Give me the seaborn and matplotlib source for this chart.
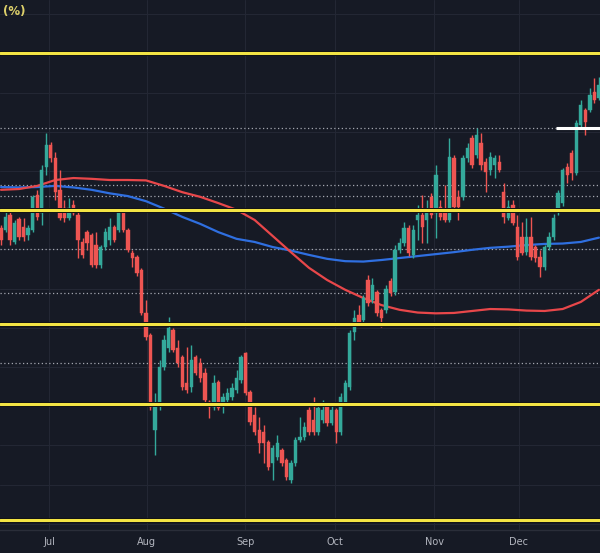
import numpy as np
import pandas as pd
import matplotlib
matplotlib.use("Agg")
import matplotlib.pyplot as plt
import seaborn as sns

# ---- data (yield, %) ----
opens = [4.555, 4.550, 4.588, 4.519, 4.578, 4.557, 4.537, 4.550, 4.639, 4.593,
         4.710, 4.766, 4.733, 4.652, 4.606, 4.580, 4.613, 4.588, 4.519, 4.544,
         4.537, 4.511, 4.460, 4.506, 4.524, 4.557, 4.550, 4.593, 4.550, 4.491,
         4.481, 4.448, 4.338, 4.282, 4.040, 4.108, 4.200, 4.249, 4.295, 4.249,
         4.226, 4.159, 4.149, 4.226, 4.210, 4.185, 4.111, 4.098, 4.162, 4.108,
         4.116, 4.124, 4.142, 4.167, 4.236, 4.136, 4.078, 4.040, 4.034, 4.009,
         3.955, 3.971, 3.989, 3.963, 3.912, 3.955, 4.014, 4.022, 4.091, 4.065,
         4.034, 4.065, 4.103, 4.057, 4.091, 4.034, 4.108, 4.149, 4.289, 4.333,
         4.320, 4.422, 4.371, 4.391, 4.346, 4.346, 4.419, 4.391, 4.499, 4.516,
         4.555, 4.486, 4.575, 4.588, 4.575, 4.634, 4.593, 4.608, 4.593, 4.575,
         4.733, 4.634, 4.634, 4.733, 4.784, 4.741, 4.771, 4.723, 4.703, 4.715,
         4.723, 4.646, 4.580, 4.613, 4.557, 4.532, 4.493, 4.532, 4.506, 4.481,
         4.455, 4.506, 4.532, 4.601, 4.618, 4.710, 4.746, 4.695, 4.817, 4.856,
         4.856, 4.901, 4.886]
closes = [4.524, 4.583, 4.524, 4.567, 4.532, 4.532, 4.555, 4.634, 4.583, 4.703,
          4.766, 4.733, 4.646, 4.580, 4.580, 4.606, 4.593, 4.524, 4.486, 4.516,
          4.460, 4.460, 4.506, 4.544, 4.557, 4.524, 4.593, 4.550, 4.499, 4.478,
          4.440, 4.338, 4.277, 4.098, 4.103, 4.200, 4.269, 4.300, 4.244, 4.210,
          4.149, 4.142, 4.218, 4.185, 4.172, 4.116, 4.098, 4.159, 4.096, 4.124,
          4.134, 4.147, 4.172, 4.226, 4.134, 4.060, 4.034, 4.006, 4.006, 3.945,
          3.994, 4.006, 3.955, 3.920, 3.955, 4.014, 4.022, 4.047, 4.034, 4.034,
          4.096, 4.091, 4.057, 4.091, 4.034, 4.124, 4.159, 4.287, 4.325, 4.315,
          4.376, 4.363, 4.409, 4.338, 4.325, 4.399, 4.389, 4.499, 4.516, 4.555,
          4.491, 4.550, 4.588, 4.557, 4.601, 4.588, 4.690, 4.583, 4.575, 4.736,
          4.608, 4.608, 4.733, 4.759, 4.715, 4.792, 4.715, 4.697, 4.736, 4.733,
          4.703, 4.583, 4.608, 4.567, 4.481, 4.491, 4.532, 4.481, 4.478, 4.455,
          4.506, 4.532, 4.580, 4.644, 4.703, 4.690, 4.695, 4.822, 4.868, 4.825,
          4.894, 4.881, 4.919]
highs = [4.562, 4.595, 4.595, 4.575, 4.583, 4.580, 4.562, 4.639, 4.652, 4.715,
         4.797, 4.774, 4.748, 4.703, 4.626, 4.631, 4.626, 4.595, 4.529, 4.550,
         4.542, 4.544, 4.511, 4.555, 4.580, 4.562, 4.601, 4.601, 4.555, 4.499,
         4.486, 4.453, 4.371, 4.287, 4.134, 4.218, 4.282, 4.328, 4.300, 4.269,
         4.231, 4.251, 4.256, 4.231, 4.223, 4.198, 4.116, 4.180, 4.167, 4.134,
         4.147, 4.159, 4.193, 4.231, 4.238, 4.142, 4.098, 4.073, 4.052, 4.014,
         4.001, 4.027, 3.994, 3.968, 3.963, 4.022, 4.073, 4.060, 4.098, 4.124,
         4.103, 4.116, 4.108, 4.103, 4.096, 4.134, 4.167, 4.295, 4.346, 4.358,
         4.384, 4.435, 4.427, 4.397, 4.351, 4.409, 4.427, 4.511, 4.529, 4.570,
         4.562, 4.562, 4.613, 4.639, 4.626, 4.644, 4.715, 4.626, 4.664, 4.784,
         4.741, 4.652, 4.741, 4.771, 4.792, 4.810, 4.797, 4.733, 4.748, 4.741,
         4.741, 4.669, 4.626, 4.626, 4.588, 4.570, 4.580, 4.583, 4.511, 4.499,
         4.511, 4.544, 4.590, 4.652, 4.708, 4.720, 4.754, 4.830, 4.881, 4.861,
         4.912, 4.937, 4.940]
lows = [4.511, 4.544, 4.511, 4.514, 4.524, 4.521, 4.524, 4.544, 4.575, 4.562,
        4.690, 4.723, 4.626, 4.575, 4.570, 4.575, 4.588, 4.478, 4.478, 4.499,
        4.455, 4.453, 4.453, 4.499, 4.511, 4.519, 4.544, 4.544, 4.493, 4.455,
        4.432, 4.333, 4.269, 4.091, 3.976, 4.091, 4.193, 4.238, 4.238, 4.200,
        4.142, 4.134, 4.136, 4.180, 4.162, 4.108, 4.070, 4.091, 4.091, 4.083,
        4.111, 4.116, 4.134, 4.159, 4.129, 4.052, 4.027, 3.981, 3.955, 3.938,
        3.912, 3.963, 3.948, 3.912, 3.904, 3.948, 4.009, 4.014, 4.027, 4.027,
        4.027, 4.057, 4.050, 4.052, 4.006, 4.027, 4.103, 4.142, 4.269, 4.307,
        4.315, 4.356, 4.363, 4.330, 4.302, 4.338, 4.381, 4.384, 4.491, 4.509,
        4.483, 4.478, 4.524, 4.516, 4.516, 4.580, 4.529, 4.575, 4.570, 4.570,
        4.601, 4.575, 4.626, 4.723, 4.708, 4.733, 4.703, 4.646, 4.690, 4.682,
        4.697, 4.567, 4.575, 4.562, 4.473, 4.486, 4.486, 4.473, 4.468, 4.429,
        4.448, 4.499, 4.524, 4.588, 4.611, 4.669, 4.677, 4.690, 4.812, 4.792,
        4.850, 4.873, 4.881]

# moving averages sampled every 4 sessions
ma_idx = list(range(0, 133, 4))
ma_blue = [4.659, 4.658, 4.659, 4.662, 4.658, 4.652, 4.643, 4.636, 4.623, 4.604,
           4.583, 4.565, 4.544, 4.527, 4.519, 4.506, 4.497, 4.486, 4.476, 4.470,
           4.469, 4.473, 4.478, 4.483, 4.488, 4.493, 4.499, 4.504, 4.507, 4.511,
           4.514, 4.515, 4.519, 4.530]
ma_red = [4.652, 4.654, 4.662, 4.677, 4.682, 4.680, 4.677, 4.677, 4.676, 4.662,
          4.646, 4.634, 4.618, 4.601, 4.575, 4.534, 4.493, 4.453, 4.422, 4.397,
          4.376, 4.358, 4.346, 4.339, 4.337, 4.338, 4.343, 4.348, 4.347, 4.344,
          4.343, 4.348, 4.366, 4.397]

yellow_levels = [5.00, 4.60, 4.31, 4.105, 3.81]
dotted_levels = [4.81, 4.665, 4.636, 4.50, 4.39, 4.21]
white_level = 4.81
white_start = 122.5

month_labels = ["Jul", "Aug", "Sep", "Oct", "Nov", "Dec"]
month_pos = [10.6, 32.2, 53.9, 73.7, 95.6, 114.3]

# ---- style ----
BG = "#161a25"
UP = "#34a99b"
DOWN = "#ee5552"
sns.set_theme(style="dark", rc={"axes.facecolor": BG, "figure.facecolor": BG})
plt.rcParams['font.family'] = ['DejaVu Sans']

fig = plt.figure(figsize=(6.0, 5.53), dpi=100)
ax = fig.add_axes([0, 23 / 553, 1, 530 / 553])
ax.set_facecolor(BG)

n = len(opens)
df = pd.DataFrame({"i": np.arange(n), "o": opens, "c": closes, "h": highs, "l": lows})
df["up"] = df["c"] >= df["o"]

# grid
for v in np.arange(3.8, 5.15, 0.1):
    ax.axhline(v, color="#232734", lw=0.8, zorder=0)
for p in month_pos:
    ax.axvline(p, color="#232734", lw=0.8, zorder=0)

# dotted levels
for v in dotted_levels:
    ax.axhline(v, color="#a4a7b0", lw=0.9, ls=(0, (1, 2)), zorder=1)

# moving averages
ma = pd.DataFrame({"i": ma_idx, "blue": ma_blue, "red": ma_red})
sns.lineplot(data=ma, x="i", y="blue", color="#2f6fe0", lw=1.6, ax=ax, zorder=2)
sns.lineplot(data=ma, x="i", y="red", color="#e8474a", lw=1.6, ax=ax, zorder=2)

# candles
colors = np.where(df["up"], UP, DOWN)
ax.vlines(df["i"], df["l"], df["h"], colors=colors, lw=1.0, zorder=3)
ax.bar(df["i"], df["c"] - df["o"], bottom=df["o"], width=0.74, color=colors,
       edgecolor=colors, linewidth=0.3, zorder=3)

# yellow levels
for v in yellow_levels:
    ax.axhline(v, color="#0d0f14", lw=3.6, zorder=4)
    ax.axhline(v, color="#f3e444", lw=2.2, zorder=4)

# white marker
ax.plot([white_start, 140], [white_level, white_level], color="white", lw=2.2,
        zorder=5, solid_capstyle="butt")

ax.set_xlim(-0.22, 132.24)
ax.set_ylim(3.7845, 5.136)
ax.set_xticks(month_pos)
ax.set_xticklabels(month_labels)
ax.set_yticks([])
ax.set_xlabel("")
ax.set_ylabel("")
ax.tick_params(axis="x", length=0, pad=5, labelsize=7, labelcolor="#b2b5be")
for s in ["top", "right", "left"]:
    ax.spines[s].set_visible(False)
ax.spines["bottom"].set_color("#2a2e39")
ax.spines["bottom"].set_linewidth(1.0)

fig.text(3 / 600, 1 - 12 / 553, "(%)", color="#ddd06a", fontsize=8.5,
         fontweight="bold", va="center", ha="left")

fig.savefig("out.png", dpi=100, facecolor=BG)
